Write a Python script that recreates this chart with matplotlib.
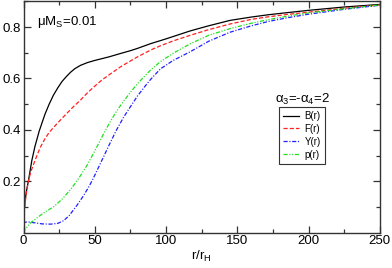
import matplotlib
matplotlib.use("Agg")
import matplotlib.pyplot as plt
from matplotlib.ticker import MultipleLocator, FixedLocator

plt.rcParams['font.family'] = ['Liberation Sans', 'DejaVu Sans']
plt.rcParams['mathtext.fontset'] = 'custom'
plt.rcParams['mathtext.rm'] = 'Liberation Sans'
plt.rcParams['mathtext.it'] = 'Liberation Sans'
plt.rcParams['lines.scale_dashes'] = False

# ---- data ----
r_B = [0, 0.3, 1, 2, 3.4, 5.8, 8, 11, 15, 18, 21, 24, 27, 30, 33, 36, 40, 45, 50, 55, 60, 68, 75, 80, 89, 100, 117, 130, 145, 160, 172, 185, 200, 225, 250]
B = [0, 0.07, 0.12, 0.16, 0.20, 0.28, 0.335, 0.395, 0.46, 0.50, 0.535, 0.563, 0.588, 0.607, 0.624, 0.638, 0.651, 0.662, 0.670, 0.677, 0.684, 0.697, 0.708, 0.717, 0.735, 0.754, 0.785, 0.805, 0.826, 0.839, 0.848, 0.856, 0.865, 0.878, 0.888]

r_F = [0, 0.3, 1, 2, 3.4, 5, 8, 11.6, 15, 18, 22, 25.7, 30, 35, 40, 45, 50, 55, 60, 68, 75, 80, 89, 96, 105, 117, 130, 145, 160, 172, 185, 200, 225, 250]
F = [0, 0.06, 0.11, 0.155, 0.20, 0.235, 0.28, 0.33, 0.365, 0.39, 0.415, 0.437, 0.462, 0.49, 0.516, 0.545, 0.57, 0.594, 0.614, 0.645, 0.668, 0.684, 0.71, 0.727, 0.746, 0.768, 0.79, 0.812, 0.83, 0.84, 0.849, 0.858, 0.873, 0.886]

r_Y = [0, 0.7, 3, 8, 13, 19, 24, 28, 32, 35, 38, 42, 46, 49, 54, 60, 65, 70, 75, 80, 85, 89, 96, 105, 117, 130, 145, 160, 172, 185, 200, 225, 250]
Y = [0, 0.04, 0.042, 0.038, 0.034, 0.033, 0.036, 0.046, 0.066, 0.088, 0.11, 0.143, 0.18, 0.212, 0.27, 0.34, 0.397, 0.447, 0.49, 0.532, 0.568, 0.595, 0.637, 0.67, 0.704, 0.745, 0.78, 0.805, 0.822, 0.836, 0.85, 0.869, 0.885]

r_p = [0, 0.5, 2.2, 5, 10, 15, 21, 27, 32.7, 36, 40, 45, 50, 55, 60, 65, 70, 75, 80, 89, 96, 105, 117, 130, 145, 160, 172, 185, 200, 225, 250]
p = [0, 0.01, 0.02, 0.038, 0.06, 0.08, 0.10, 0.13, 0.166, 0.19, 0.222, 0.266, 0.318, 0.372, 0.424, 0.47, 0.51, 0.546, 0.58, 0.632, 0.665, 0.698, 0.735, 0.768, 0.794, 0.815, 0.829, 0.842, 0.855, 0.871, 0.886]

labels = ['B(r)', 'F(r)', 'Y(r)', 'p(r)']
x_ticks = [0, 50, 100, 150, 200, 250]
y_ticks = [0.2, 0.4, 0.6, 0.8]

fig = plt.figure(figsize=(3.92, 2.68), dpi=100)
ax = fig.add_axes([0.06, 0.132, 0.909, 0.863])

ax.plot(r_B, B, color='black', lw=0.9, label=labels[0])
ax.plot(r_F, F, color='#ff2020', lw=0.9, dashes=[3, 1.5], label=labels[1])
ax.plot(r_Y, Y, color='#2020ff', lw=0.9, dashes=[3, 1.2, 0.8, 1.2], label=labels[2])
ax.plot(r_p, p, color='#20e020', lw=0.9, dashes=[3, 1.2, 0.8, 1.2, 0.8, 1.2], label=labels[3])

ax.set_xlim(0, 250)
ax.set_ylim(0, 0.9)
ax.xaxis.set_major_locator(FixedLocator(x_ticks))
ax.xaxis.set_minor_locator(MultipleLocator(25))
ax.yaxis.set_major_locator(FixedLocator(y_ticks))
ax.yaxis.set_minor_locator(FixedLocator([0.1, 0.3, 0.5, 0.7, 0.9]))
ax.tick_params(which='both', direction='in', top=True, right=True, labelsize=9.5, color='#333333', pad=2)
ax.tick_params(which='major', length=5, width=0.9)
ax.tick_params(which='minor', length=3, width=0.9)
for s in ax.spines.values():
    s.set_linewidth(1.0)
    s.set_color('#333333')

ax.set_xlabel(r'r/r$_\mathregular{H}$', fontsize=9.5, labelpad=1)

ax.text(0.038, 0.945, r'$\mu$M$_\mathregular{S}$=0.01', transform=ax.transAxes, fontsize=9.5, va='top', ha='left')
ax.text(0.707, 0.575, r'$\alpha_\mathregular{3}$=-$\alpha_\mathregular{4}$=2', transform=ax.transAxes, fontsize=9.5, va='center', ha='left')

leg = ax.legend(loc='upper left', bbox_to_anchor=(0.718, 0.543), fontsize=7, handlelength=1.6, handletextpad=0.6,
                borderpad=0.4, labelspacing=0.3, fancybox=False, framealpha=1, edgecolor='#333333', borderaxespad=0)
leg.get_frame().set_linewidth(0.8)

fig.savefig('out.png', dpi=100)
